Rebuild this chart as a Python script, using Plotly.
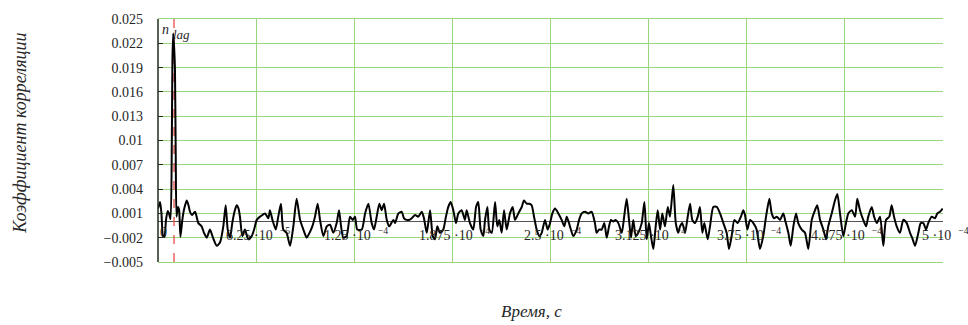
import plotly.graph_objects as go

# time in microseconds, correlation coefficient in units of 1e-3
time_us = [
    0.0, 1.3, 2.2, 3.2, 4.1, 5.1, 6.2, 7.0, 8.0, 8.8, 9.2, 9.7, 10.4, 10.8, 11.3, 11.8,
    12.7, 13.4, 14.3, 15.5, 16.6, 18.3, 19.4, 20.4, 21.7, 23.6, 25.7, 27.8, 29.3, 31.0,
    33.1, 35.0, 37.4, 39.5, 41.6, 43.1, 44.4, 45.9, 47.3, 48.7, 50.1, 51.3, 52.2, 53.7,
    55.4, 57.5, 59.7, 61.2, 62.9, 65.0, 68.2, 70.3, 71.3, 72.9, 75.0, 76.6, 78.3, 79.8,
    81.9, 84.1, 86.2, 88.3, 90.5, 92.6, 94.7, 96.5, 98.3, 100.0, 101.7, 103.2, 105.3,
    107.5, 109.6, 111.7, 113.8, 115.3, 116.6, 118.0, 120.1, 122.3,
    124.0, 125.5, 126.9, 129.8, 131.9, 134.0, 136.1, 137.6, 139.3, 141.0, 142.5, 144.0,
    145.7, 147.3, 149.9, 151.0, 153.1, 155.2, 156.7, 158.4, 160.1, 161.6, 163.7, 165.8,
    168.0, 169.4, 171.2, 173.3, 175.0, 176.4, 177.9, 179.6, 181.7, 183.4, 184.9, 186.4,
    188.1, 189.8, 191.3, 193.4, 195.5, 196.6, 198.7, 200.8, 202.6, 204.0, 205.5, 207.2,
    208.3, 209.8, 211.0, 212.6, 214.7, 216.1, 217.4, 218.9, 220.4, 222.1, 224.2, 225.9,
    227.4, 229.5, 231.7, 233.1, 234.8, 236.5, 238.0, 239.5, 241.2, 242.9, 244.4, 246.5,
    248.2, 249.7, 251.2, 252.9, 255.0, 257.1, 258.8, 260.3, 261.8, 264.5, 266.7, 268.2,
    269.9, 272.0, 274.1, 276.2, 278.3, 279.4, 280.9, 282.6, 284.3, 285.8, 287.3, 288.5,
    290.0, 291.5, 293.2, 295.4, 296.8, 298.5, 300.0, 301.3, 302.7, 304.3, 305.9, 308.1,
    309.8, 311.3, 312.7, 314.0, 315.5, 317.0, 318.3, 319.8, 321.2, 322.9, 324.7, 326.1,
    328.2, 329.8, 331.4, 332.5, 334.0, 335.7, 337.4, 338.9, 340.3, 342.0, 343.8, 345.2,
    346.7, 348.0, 350.1, 351.6, 353.7, 355.9, 358.0, 360.1, 362.2, 363.7, 365.4, 367.1,
    369.2, 371.3,
    372.8, 373.9, 375.4, 377.1, 379.2, 381.3, 383.4, 385.5, 387.3, 389.4, 390.9, 392.4,
    394.1, 396.2, 398.3, 399.4, 401.5, 403.0, 404.7, 406.4, 407.8, 410.0, 412.1, 414.2,
    416.4, 418.5, 419.9, 421.7, 423.8, 425.5, 426.9, 429.1, 431.2, 432.7, 434.4, 436.5,
    438.2, 439.7, 441.9, 444.0, 445.4, 447.1, 449.2, 451.0, 452.4, 454.6, 456.1, 457.8,
    459.9, 462.0, 463.7, 465.8, 467.3, 468.8, 470.5, 472.6, 474.7, 476.9, 479.0, 480.7,
    482.2, 484.3, 485.8, 487.5, 489.2, 490.6, 492.8, 494.9, 496.4, 498.1, 499.8,
]
corr_e3 = [
    1.6, 2.4, 1.0, -1.8, -1.9, 0.2, 1.3, 1.0, 0.3, 10.0, 20.0, 23.2, 21.0, 18.8, 8.0, 0.6,
    1.8, 1.5, -1.9, 0.2, 1.5, 2.6, 2.0, 1.2, 0.8, 1.2, -0.2, -0.6, -1.4, -2.0,
    -1.0, -2.0, -3.0, -2.6, -0.6, 2.0, -1.0, -2.0, -0.2, 1.2, 2.0, 1.6, 0.6, -1.8,
    -1.0, -2.2, -1.8, -1.0, 0.2, 0.6, 1.0, 0.4, 1.4, 0.2, -1.0, 0.6, 2.2, -1.0,
    -1.4, -3.0, -0.6, 2.8, 0.2, -1.0, -2.0, -1.4, -0.6, 0.6, 2.2, 0.2, -1.8,
    -0.6, -0.4, -1.4, -0.2, 1.4, -0.6, -2.0, -1.8, 0.6,
    0.2, 0.6, -1.0, -1.0, 1.0, 2.2, -0.2, -1.0, 0.6, 2.2, 1.4, 2.2,
    0.2, -0.6, 0.2, -0.2, 1.0, 1.2, 0.4, 0.2, 0.2, 0.4, 0.8, 0.6,
    1.2, 0.4, -1.4, 1.4, -1.8, -2.2, -0.6, -1.4, -1.0, 0.6, 1.8, 2.4,
    1.4, -0.2, 1.0, 1.4, 0.2, 1.4, -0.2, -1.0, 1.8, 2.4, -1.0, -1.8,
    0.2, 1.8, -1.0, -1.4, 2.4, -0.6, 0.2, -1.4, 1.4, -1.0, 1.0, 1.8,
    0.2, 1.0, 1.8, 2.6, 2.2, 2.2, 2.0, 0.6, -1.0, -1.8, -1.4, 0.2,
    -1.0, -0.2, 1.0, 1.6, 1.0, 0.2, -0.6, 0.6, -0.2, -1.8, -1.0, 0.2,
    1.0, 1.2, 1.0, 1.2, -0.2, -1.4, -1.0, -1.0, -0.2, -2.0, -0.6, 0.2,
    0.0, 0.2, -0.2, -1.4, 0.4, 2.8, 0.2, -2.0, 0.2, -1.8, -1.4, -0.2,
    2.4, -2.2, -0.2, -1.8, -3.4, -0.6, 1.4, -1.0, 1.0, -0.6, 1.8, 0.6,
    4.5, -0.2, -1.4, -0.6, -0.2, -1.4, 0.6, 2.2, 0.2, -0.2, 0.6, 1.8,
    -1.4, -0.2, -2.2, -0.6, 1.8, 1.8, 1.0, -0.2, -1.4, -3.4, -1.8, 0.2,
    -0.2, 0.6,
    1.4, 0.8, -1.0, 0.2, -0.2, -1.0, -3.4, -1.8, 0.6, 2.8, 1.0, 0.4,
    0.6, 0.2, 1.0, 0.2, -1.4, -3.0, -0.6, 1.0, -0.2, -1.0, -1.4, -3.4,
    0.2, 1.4, 2.0, 0.2, -1.0, -2.2, -0.6, 1.0, 2.6, 3.4, 1.0, -1.8,
    -0.2, 1.0, 1.4, 0.6, 2.8, 1.4, 0.2, -0.6, 0.6, 1.8, 0.6, -0.2,
    0.6, -3.0, 0.2, 0.6, 2.0, 0.6, -0.6, -1.4, 0.2, -0.2, -1.4, -2.2,
    -3.0, -1.4, -0.2, -0.2, -1.0, -0.2, 0.6, 0.4, 1.0, 1.2, 1.6,
]
n_lag_us = 10.2

y_ticks = [0.025, 0.022, 0.019, 0.016, 0.013, 0.01, 0.007, 0.004, 0.001, -0.002, -0.005]
y_ticktext = ["0.025", "0.022", "0.019", "0.016", "0.013", "0.01", "0.007", "0.004",
              "0.001", "\u22120.002", "\u22120.005"]
x_ticks_s = [0, 6.25e-5, 1.25e-4, 1.875e-4, 2.5e-4, 3.125e-4, 3.75e-4, 4.375e-4, 5e-4]
x_mant = ["0", "6.25", "1.25", "1.875", "2.5", "3.125", "3.75", "4.375", "5"]
x_exp = ["", "\u22125", "\u22124", "\u22124", "\u22124", "\u22124", "\u22124", "\u22124", "\u22124"]

FONT = "Liberation Serif"
GRID = "#9ad67e"
TXT = "#262626"
NB = "\u00a0"

t_s = [t * 1e-6 for t in time_us]
c = [v * 1e-3 for v in corr_e3]

fig = go.Figure()
fig.add_trace(go.Scatter(
    x=[n_lag_us * 1e-6, n_lag_us * 1e-6], y=[-0.005, 0.025], mode="lines",
    line=dict(color="#e8413c", width=1.2, dash="dash"), hoverinfo="skip",
))
fig.add_trace(go.Scatter(
    x=t_s, y=c, mode="lines",
    line=dict(color="black", width=2, shape="spline", smoothing=0.6),
))

annotations = []
for xv, m, e in zip(x_ticks_s, x_mant, x_exp):
    if e:
        tt = f"{m}{NB}\u00b710{NB}{NB}<sup>{e}</sup>"
    else:
        tt = m
    annotations.append(dict(
        x=xv, y=0, xref="x", yref="y", text=tt, showarrow=False,
        xanchor="center", yanchor="top", xshift=5 if not e else 2, yshift=-1,
        font=dict(family=FONT, size=14, color=TXT),
    ))
annotations.append(dict(
    x=0, y=0.025, xref="x", yref="y", text="<i>n</i>", showarrow=False,
    xanchor="left", yanchor="top", xshift=2, yshift=-1,
    font=dict(family=FONT, size=14, color=TXT),
))
annotations.append(dict(
    x=0, y=0.025, xref="x", yref="y", text="<i>lag</i>", showarrow=False,
    xanchor="left", yanchor="top", xshift=13, yshift=-6,
    font=dict(family=FONT, size=13, color=TXT),
))
annotations.append(dict(
    x=20, y=130, xref="paper", yref="paper", text="<i>Коэффициент корреляции</i>",
    showarrow=False, textangle=-90, xanchor="center", yanchor="middle",
    font=dict(family=FONT, size=18, color=TXT),
))
annotations.append(dict(
    x=531, y=313, xref="paper", yref="paper", text="<i>Время, с</i>",
    showarrow=False, xanchor="center", yanchor="middle",
    font=dict(family=FONT, size=17, color=TXT),
))
# convert pixel-based title positions to paper fractions
L, R, T, B = 158, 25, 12, 63
W, H = 968, 325
pw, ph = W - L - R, H - T - B
for a in annotations[-2:]:
    a["x"] = (a["x"] - L) / pw
    a["y"] = (H - B - a["y"]) / ph

fig.update_layout(
    width=W, height=H, margin=dict(l=L, r=R, t=T, b=B),
    plot_bgcolor="white", paper_bgcolor="white", showlegend=False,
    annotations=annotations,
    xaxis=dict(range=[0, 5e-4], tickvals=x_ticks_s, showticklabels=False,
               showgrid=True, gridcolor=GRID, gridwidth=1, zeroline=False,
               showline=True, linecolor=GRID, mirror=True, ticks=""),
    yaxis=dict(range=[-0.005, 0.025], tickvals=y_ticks, ticktext=y_ticktext,
               showgrid=True, gridcolor=GRID, gridwidth=1,
               zeroline=True, zerolinecolor="#555", zerolinewidth=1,
               showline=False, ticks="inside", ticklen=5, tickcolor="#1e2e1e",
               ticklabelstandoff=14,
               tickfont=dict(family=FONT, size=14, color=TXT)),
    font=dict(family=FONT),
    shapes=[dict(type="line", xref="paper", yref="paper", x0=0, x1=0, y0=0, y1=1,
                 line=dict(color="#1e2e1e", width=1.5))],
)

fig.write_html("out.html")
